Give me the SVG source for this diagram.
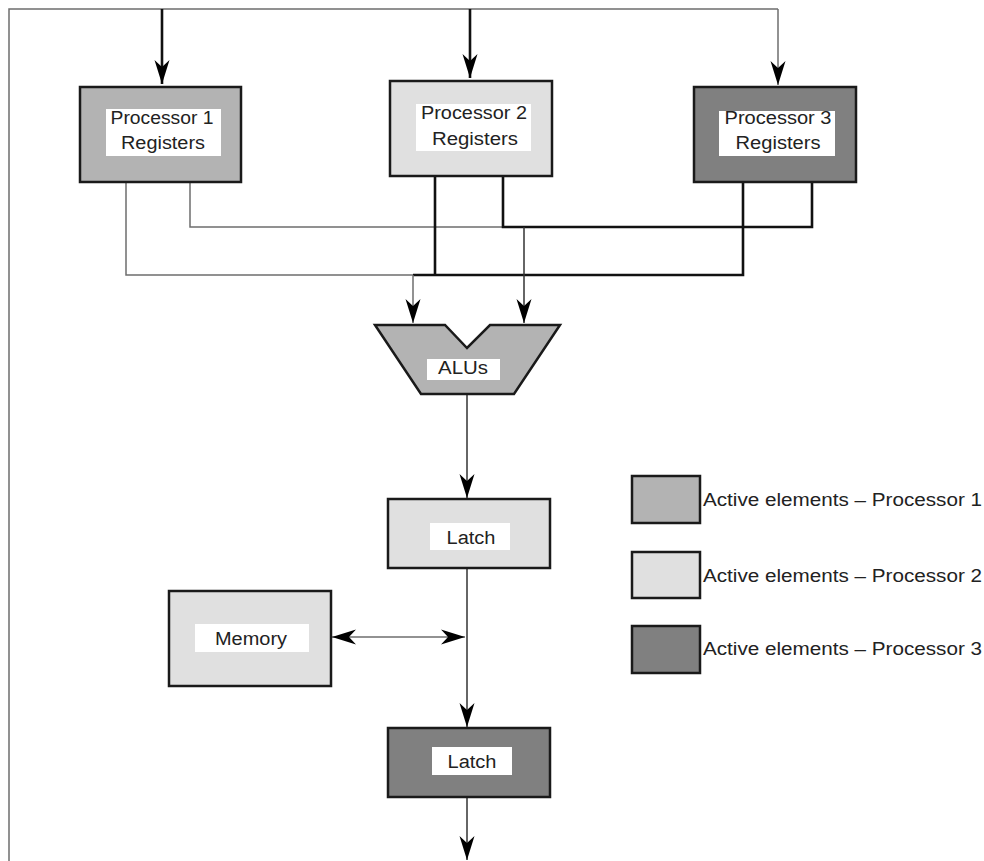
<svg xmlns="http://www.w3.org/2000/svg" width="984" height="861" viewBox="0 0 984 861">
<style>
  .box { stroke: #1a1a1a; stroke-width: 2.5; }
  .p1 { fill: #b3b3b3; }
  .p2 { fill: #e0e0e0; }
  .p3 { fill: #808080; }
  .lbl { fill: #ffffff; stroke: none; }
  text { font-family: "Liberation Sans", Arial, Helvetica, sans-serif; font-size: 18px; fill: #222; }
  .c { text-anchor: middle; }
  .thin { fill: none; stroke: #6e6e6e; stroke-width: 1.5; }
  .dark { fill: none; stroke: #333; stroke-width: 1.5; }
  .thick { fill: none; stroke: #111; stroke-width: 2.6; }
</style>
<defs>
  <marker id="ah" viewBox="-25 -8 26 16" refX="0" refY="0" markerWidth="26" markerHeight="16" markerUnits="userSpaceOnUse" orient="auto-start-reverse">
    <path d="M0,0 L-24,-7.5 L-17,0 L-24,7.5 Z" fill="#000"/>
  </marker>
</defs>
<rect width="984" height="861" fill="#ffffff"/>

<g id="connectors">
  <path class="thin" d="M9,861 V9 H778"/>
  <path class="thick" d="M162,9 V84" marker-end="url(#ah)"/>
  <path class="thick" d="M470,9 V78" marker-end="url(#ah)"/>
  <path class="thin" d="M778,9 V85" marker-end="url(#ah)"/>
  <path class="thin" d="M126,182 V275 H413"/>
  <path class="thin" d="M190,182 V227 H503"/>
  <path class="thick" d="M503,176 V227 H812 V182"/>
  <path class="thick" d="M435,176 V275"/>
  <path class="thick" d="M413,275 H743 V182"/>
  <path class="thin" d="M413,275 V323" marker-end="url(#ah)"/>
  <path class="dark" d="M524,227 V323" marker-end="url(#ah)"/>
  <path class="dark" d="M467,394 V498" marker-end="url(#ah)"/>
  <path class="dark" d="M467,568 V727" marker-end="url(#ah)"/>
  <path class="thin" d="M332,637 H465" marker-start="url(#ah)" marker-end="url(#ah)"/>
  <path class="dark" d="M467,797 V860" marker-end="url(#ah)"/>
</g>

<g id="proc1">
  <rect class="box p1" x="80" y="87" width="161" height="95"/>
  <rect class="lbl" x="106" y="109" width="115" height="47"/>
  <text class="c" x="162" y="124" textLength="103" lengthAdjust="spacingAndGlyphs">Processor 1</text>
  <text class="c" x="163" y="149" textLength="84" lengthAdjust="spacingAndGlyphs">Registers</text>
</g>
<g id="proc2">
  <rect class="box p2" x="390" y="81" width="162" height="95"/>
  <rect class="lbl" x="416" y="104" width="115" height="47"/>
  <text class="c" x="474" y="119" textLength="106" lengthAdjust="spacingAndGlyphs">Processor 2</text>
  <text class="c" x="475" y="145" textLength="86" lengthAdjust="spacingAndGlyphs">Registers</text>
</g>
<g id="proc3">
  <rect class="box p3" x="694" y="87" width="162" height="95"/>
  <rect class="lbl" x="719" y="111" width="116" height="45"/>
  <text class="c" x="778" y="124" textLength="107" lengthAdjust="spacingAndGlyphs">Processor 3</text>
  <text class="c" x="778" y="149" textLength="85" lengthAdjust="spacingAndGlyphs">Registers</text>
</g>
<g id="alus">
  <polygon class="box p1" stroke-width="2" points="375,325 445,325 467,348 490,325 560,325 514,394 421,394"/>
  <rect class="lbl" x="427" y="359" width="73" height="21"/>
  <text class="c" x="463" y="374" textLength="50" lengthAdjust="spacingAndGlyphs">ALUs</text>
</g>
<g id="latch1">
  <rect class="box p2" x="388" y="499" width="162" height="69"/>
  <rect class="lbl" x="430" y="523" width="80" height="27"/>
  <text class="c" x="471" y="544" textLength="49" lengthAdjust="spacingAndGlyphs">Latch</text>
</g>
<g id="memory">
  <rect class="box p2" x="169" y="591" width="162" height="95"/>
  <rect class="lbl" x="195" y="624" width="114" height="28"/>
  <text class="c" x="251" y="645" textLength="72" lengthAdjust="spacingAndGlyphs">Memory</text>
</g>
<g id="latch2">
  <rect class="box p3" x="388" y="728" width="162" height="69"/>
  <rect class="lbl" x="432" y="747" width="80" height="28"/>
  <text class="c" x="472" y="768" textLength="49" lengthAdjust="spacingAndGlyphs">Latch</text>
</g>
<g id="legend">
  <rect class="box p1" x="632" y="476" width="68" height="47"/>
  <text x="703" y="506" textLength="279" lengthAdjust="spacingAndGlyphs">Active elements – Processor 1</text>
  <rect class="box p2" x="632" y="552" width="68" height="46"/>
  <text x="703" y="582" textLength="279" lengthAdjust="spacingAndGlyphs">Active elements – Processor 2</text>
  <rect class="box p3" x="632" y="626" width="68" height="47"/>
  <text x="703" y="655" textLength="279" lengthAdjust="spacingAndGlyphs">Active elements – Processor 3</text>
</g>
</svg>
